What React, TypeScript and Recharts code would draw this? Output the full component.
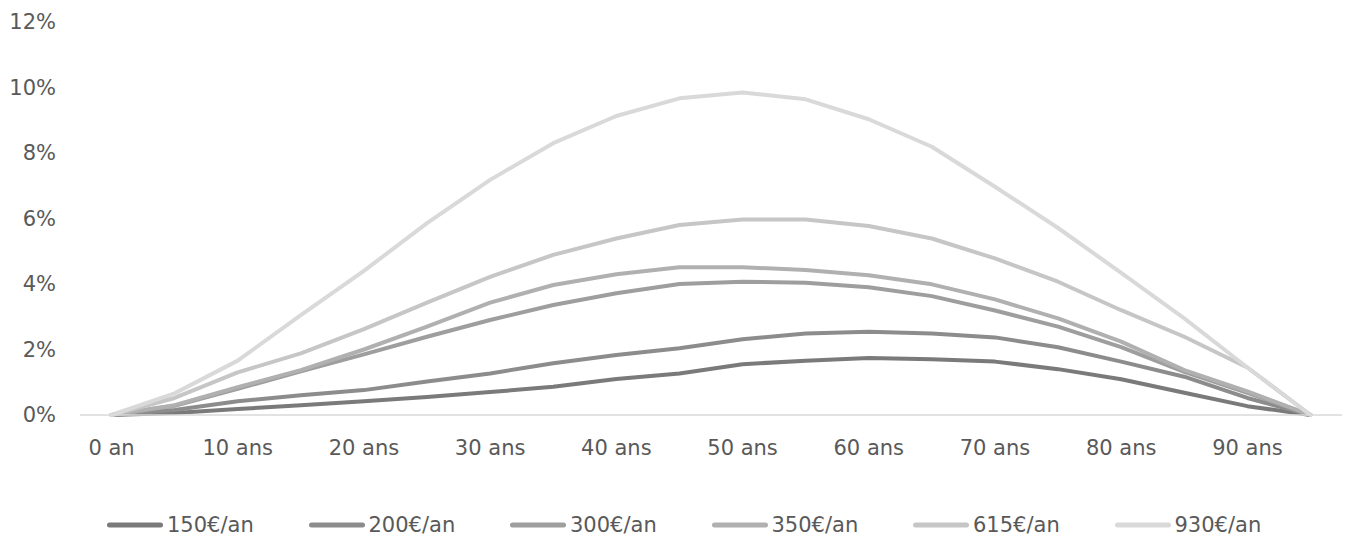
import React from "react";
import { LineChart, Line, XAxis, YAxis, Legend } from "recharts";

// age categories, every 5 years
const ages = [
  "0 an", "5 ans", "10 ans", "15 ans", "20 ans", "25 ans", "30 ans", "35 ans", "40 ans", "45 ans",
  "50 ans", "55 ans", "60 ans", "65 ans", "70 ans", "75 ans", "80 ans", "85 ans", "90 ans", "95 ans",
];

// values in %
const s150 = [0, 0.06, 0.18, 0.3, 0.42, 0.55, 0.7, 0.86, 1.1, 1.27, 1.55, 1.66, 1.74, 1.7, 1.63, 1.4, 1.09, 0.68, 0.27, 0];
const s200 = [0, 0.15, 0.42, 0.6, 0.76, 1.02, 1.27, 1.58, 1.83, 2.04, 2.31, 2.49, 2.54, 2.49, 2.37, 2.07, 1.63, 1.17, 0.52, 0];
const s300 = [0, 0.28, 0.8, 1.33, 1.85, 2.39, 2.9, 3.36, 3.72, 4.0, 4.07, 4.04, 3.9, 3.63, 3.19, 2.7, 2.07, 1.32, 0.68, 0];
const s350 = [0, 0.3, 0.85, 1.37, 2.0, 2.7, 3.43, 3.97, 4.3, 4.51, 4.51, 4.43, 4.27, 3.99, 3.53, 2.95, 2.24, 1.37, 0.72, 0];
const s615 = [0, 0.52, 1.3, 1.88, 2.62, 3.43, 4.22, 4.89, 5.39, 5.8, 5.97, 5.97, 5.77, 5.39, 4.78, 4.07, 3.2, 2.39, 1.45, 0];
const s930 = [0, 0.66, 1.66, 3.05, 4.4, 5.86, 7.18, 8.3, 9.13, 9.67, 9.85, 9.64, 9.03, 8.19, 6.97, 5.71, 4.34, 2.95, 1.45, 0];

const yTicks = [0, 2, 4, 6, 8, 10, 12];

const series = [
  { key: "150€/an", values: s150, color: "#7a7a7a" },
  { key: "200€/an", values: s200, color: "#8c8c8c" },
  { key: "300€/an", values: s300, color: "#9e9e9e" },
  { key: "350€/an", values: s350, color: "#b0b0b0" },
  { key: "615€/an", values: s615, color: "#c6c6c6" },
  { key: "930€/an", values: s930, color: "#d9d9d9" },
];

const rows = ages.map((age, i) => {
  const row: Record<string, string | number> = { age };
  series.forEach((s) => {
    row[s.key] = s.values[i];
  });
  return row;
});

const font = "'DejaVu Sans', Verdana, sans-serif";
const textColor = "#595959";

const renderLegend = (props: any) => {
  const { payload = [] } = props;
  return (
    <div
      style={{
        display: "flex",
        alignItems: "center",
        height: 20,
        paddingLeft: 107,
        fontFamily: font,
        fontSize: 21,
        color: textColor,
      }}
    >
      {payload.map((entry: any) => (
        <div
          key={entry.value}
          style={{ display: "flex", alignItems: "center", width: 201.5, flexShrink: 0 }}
        >
          <svg width={56} height={8} style={{ marginRight: 4 }}>
            <line x1={2.5} y1={4} x2={53.5} y2={4} stroke={entry.color} strokeWidth={5} strokeLinecap="round" />
          </svg>
          <span style={{ lineHeight: "20px", whiteSpace: "nowrap" }}>{entry.value}</span>
        </div>
      ))}
    </div>
  );
};

export default function App() {
  return (
    <div style={{ position: "absolute", left: 0, top: 0, width: 1347, height: 535, background: "#fff" }}>
      <LineChart width={1347} height={535} data={rows} margin={{ top: 22, right: 5, bottom: 0, left: 0 }}>
        <XAxis
          dataKey="age"
          height={100}
          interval={1}
          padding={{ left: 31.5, right: 31.5 }}
          tickLine={false}
          tickSize={0}
          tickMargin={25}
          axisLine={{ stroke: "#d9d9d9", strokeWidth: 1.5 }}
          tick={{ fill: textColor, fontSize: 21, fontFamily: font }}
        />
        <YAxis
          width={80}
          domain={[0, 12]}
          ticks={yTicks}
          tickFormatter={(v: number) => `${v}%`}
          axisLine={false}
          tickLine={false}
          tickSize={0}
          tickMargin={24}
          tick={{ fill: textColor, fontSize: 21, fontFamily: font }}
        />
        <Legend
          content={renderLegend}
          wrapperStyle={{ left: 0, bottom: 0, width: 1347, height: 20 }}
        />
        {series.map((s) => (
          <Line
            key={s.key}
            type="linear"
            dataKey={s.key}
            stroke={s.color}
            strokeWidth={4}
            strokeLinejoin="round"
            strokeLinecap="round"
            dot={false}
            activeDot={false}
            isAnimationActive={false}
          />
        ))}
      </LineChart>
    </div>
  );
}
